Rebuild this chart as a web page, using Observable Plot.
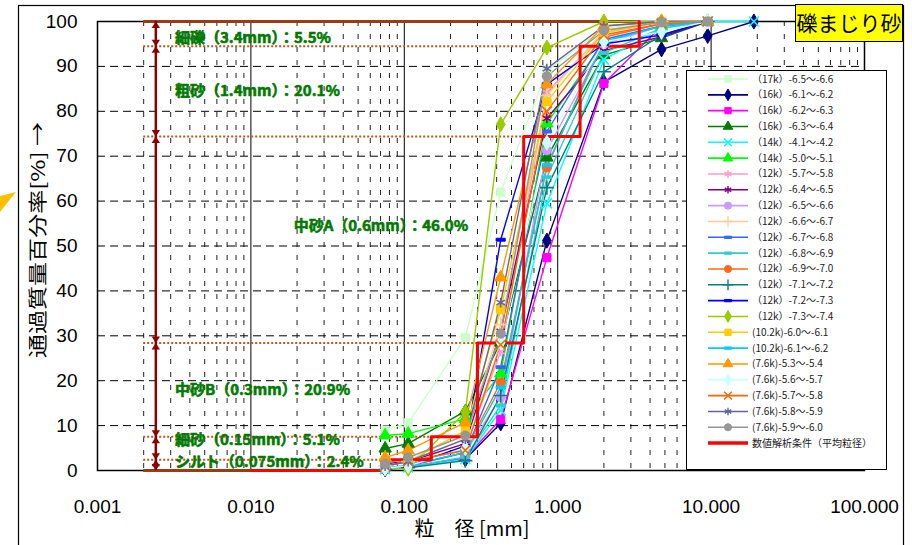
<!DOCTYPE html>
<html>
<head>
<meta charset="utf-8">
<script src="https://cdn.jsdelivr.net/npm/d3@7"></script>
<script src="https://cdn.jsdelivr.net/npm/@observablehq/plot@0.6"></script>
<style>
  html, body { margin: 0; padding: 0; background: #fff; overflow: hidden; }
  #chart svg { display: block; }
</style>
</head>
<body>
<div id="chart"></div>
<script>
// Sieve openings [mm]
const sieves = [0.075, 0.106, 0.25, 0.425, 0.85, 2.0, 4.75, 9.5, 19.0];

// Sample names (borehole depth ranges)
const seriesNames = [
  "（17k）-6.5～-6.6", "（16k）-6.1～-6.2", "（16k）-6.2～-6.3", "（16k）-6.3～-6.4",
  "（14k）-4.1～-4.2", "（14k）-5.0～-5.1", "（12k）-5.7～-5.8", "（12k）-6.4～-6.5",
  "（12k）-6.5～-6.6", "（12k）-6.6～-6.7", "（12k）-6.7～-6.8", "（12k）-6.8～-6.9",
  "（12k）-6.9～-7.0", "（12k）-7.1～-7.2", "（12k）-7.2～-7.3", "（12k）-7.3～-7.4",
  "(10.2k)-6.0～-6.1", "(10.2k)-6.1～-6.2", "(7.6k)-5.3～-5.4", "(7.6k)-5.6～-5.7",
  "(7.6k)-5.7～-5.8", "(7.6k)-5.8～-5.9", "(7.6k)-5.9～-6.0"
];

// Percent passing at each sieve (null = not measured)
const passing = [
  [9.0, 10.6, 29.6, 62.0, 89.0, 98.5, 100, 100, null],
  [0.3, 0.8, 2.5, 10.5, 51.2, 86.5, 93.8, 96.8, 100],
  [0.3, 0.8, 2.8, 11.4, 47.4, 86.2, 99.0, 100, null],
  [4.9, 6.0, 13.2, 28.5, 69.7, 92.5, 96.3, 100, null],
  [0.3, 0.7, 2.5, 13.4, 59.5, 91.5, 98.5, 100, 100],
  [7.8, 8.2, 11.5, 21.6, 77.3, 95.5, 99.0, 100, null],
  [0.5, 1.2, 5.0, 26.5, 84.2, 97.5, 100, 100, null],
  [1.5, 2.0, 6.0, 31.0, 78.4, 93.5, 96.6, 100, null],
  [0.5, 1.0, 4.0, 16.3, 71.3, 95.0, 99.0, 100, null],
  [1.0, 2.0, 7.0, 32.5, 83.5, 98.0, 100, 100, null],
  [0.5, 1.0, 4.0, 23.0, 75.5, 96.0, 99.0, 100, null],
  [0.3, 0.8, 3.0, 14.5, 65.3, 93.0, 98.5, 100, null],
  [1.0, 2.0, 4.5, 19.6, 67.5, 96.5, 99.5, 100, null],
  [0.2, 0.6, 2.2, 16.7, 63.0, 88.8, 97.0, 100, null],
  [0.4, 1.0, 5.5, 51.4, 86.0, 95.0, 97.0, 100, null],
  [0.5, 0.4, 13.0, 77.1, 94.2, 100, 100, 100, null],
  [1.0, 2.0, 8.9, 35.8, 82.2, 97.5, 100, 100, null],
  [0.5, 1.2, 4.0, 18.5, 68.0, 95.5, 99.0, 100, null],
  [2.9, 4.5, 10.7, 43.0, 86.0, 99.0, 100, 100, null],
  [0.5, 1.0, 5.0, 28.5, 73.0, 95.5, 97.7, 100, null],
  [1.0, 2.0, 4.5, 28.0, 80.0, 97.0, 99.5, 100, null],
  [1.0, 2.0, 7.0, 37.4, 89.5, 99.0, 100, 100, null],
  [1.5, 2.9, 7.8, 30.5, 87.8, 98.0, 99.8, 100, null]
];

// Soil fractions used for the numerical model (mean grain size)
const bandNames = ["細礫", "粗砂", "中砂A", "中砂B", "細砂", "シルト"];
const bandSizes = [3.4, 1.4, 0.6, 0.3, 0.15, 0.075];
const bandShares = [5.5, 20.1, 46.0, 20.9, 5.1, 2.4];
const modelName = "数値解析条件（平均粒径）";

const xTicks = [0.001, 0.01, 0.1, 1, 10, 100];
const yTicks = [0, 10, 20, 30, 40, 50, 60, 70, 80, 90, 100];

// ---- styling ----
const seriesColors = [
  "#ccffcc", "#000080", "#ff00ff", "#008000", "#00ffff", "#00ff00", "#ff99cc", "#800080",
  "#cc99ff", "#ffcc99", "#3366ff", "#33cccc", "#ff6a1a", "#008080", "#0000ff", "#99cc00",
  "#ffcc00", "#00ccff", "#ff9900", "#ccffff", "#ff6600", "#666699", "#969696"
];
const dash = { draw(ctx, size) { const r = Math.sqrt(size / Math.PI); ctx.rect(-r, -r * 0.32, 2 * r, r * 0.64); } };
const S = {
  square: [d3.symbolSquare, true], diamond: [d3.symbolDiamond, true], triangle: [d3.symbolTriangle, true],
  circle: [d3.symbolCircle, true], dash: [dash, true],
  times: [d3.symbolTimes, false], asterisk: [d3.symbolAsterisk, false], plus: [d3.symbolPlus, false]
};
const seriesSymbols = [
  "square", "diamond", "square", "triangle", "times", "triangle", "asterisk", "asterisk",
  "circle", "plus", "dash", "dash", "circle", "plus", "dash", "diamond",
  "square", "dash", "triangle", "diamond", "times", "asterisk", "circle"
];
const arrowHead = { draw(ctx) { ctx.moveTo(0, 0); ctx.lineTo(-4.2, 6.5); ctx.lineTo(4.2, 6.5); ctx.closePath(); } };

// ---- derived tables ----
const rows = [];
passing.forEach((vals, s) => vals.forEach((v, j) => { if (v != null) rows.push({ s, size: sieves[j], pass: v }); }));

const tops = [];
let acc = 100;
bandShares.forEach(p => { tops.push(acc); acc = +(acc - p).toFixed(1); });
const bottoms = tops.map((t, i) => +(t - bandShares[i]).toFixed(1));
const bands = bandNames.map((name, i) => ({
  name, size: bandSizes[i], share: bandShares[i], top: tops[i], bottom: bottoms[i],
  mid: (tops[i] + bottoms[i]) / 2,
  label: `${name}（${bandSizes[i]}mm）：${bandShares[i].toFixed(1)}%`
}));

// model step curve, from the finest fraction upward
const step = [{ size: 0.01, pass: 0 }];
for (let i = bands.length - 1; i >= 0; i--) {
  step.push({ size: bands[i].size, pass: bands[i].bottom });
  step.push({ size: bands[i].size, pass: bands[i].top });
}

const guideX = 0.002, arrowX = 0.0024;
const levelLines = bands.map((b, i) => ({ level: b.top, end: b.size, solid: i === 0 }));
levelLines.push({ level: 0, end: bands[bands.length - 1].size, solid: true });

const minor = d3.range(-3, 2).flatMap(e => d3.range(2, 10).map(k => +(k * Math.pow(10, e)).toPrecision(3)));
const major = xTicks.slice(1, -1);

const green = "#007a00";
const labelX = [0.0032, 0.0032, 0.019, 0.0032, 0.0032, 0.0032];
const labelDy = [4, 0, -14, 0, -8, -3];

const marks = [
  Plot.ruleX(minor, { stroke: "#222", strokeWidth: 1, strokeDasharray: "5,8" }),
  Plot.ruleX(major, { stroke: "#000", strokeWidth: 1 }),
  Plot.ruleY(yTicks.slice(1, -1), { stroke: "#000", strokeWidth: 1, strokeDasharray: "8,5" }),
  Plot.frame({ stroke: "#000", strokeWidth: 1.5 }),
  Plot.ruleY(levelLines.filter(d => !d.solid), { y: "level", x1: () => guideX, x2: "end", stroke: "#c0561e", strokeWidth: 2, strokeDasharray: "2,2" }),
  Plot.ruleY(levelLines.filter(d => d.solid), { y: "level", x1: () => guideX, x2: "end", stroke: "#9c3a12", strokeWidth: 3 }),
  Plot.ruleX([arrowX], { y1: 0, y2: 100, stroke: "#8b0000", strokeWidth: 2.5 }),
  Plot.dot(bands, { x: () => arrowX, y: "top", symbol: arrowHead, fill: "#8b0000", stroke: "none" }),
  Plot.dot(bands, { x: () => arrowX, y: "bottom", symbol: arrowHead, rotate: 180, fill: "#8b0000", stroke: "none" }),
  Plot.line(rows, { x: "size", y: "pass", z: "s", stroke: d => seriesColors[d.s], strokeWidth: 1.4 }),
  Plot.line(step, { x: "size", y: "pass", stroke: "#ff0000", strokeWidth: 3, curve: "linear" })
];

seriesSymbols.forEach((name, s) => {
  const [sym, filled] = S[name];
  marks.push(Plot.dot(rows.filter(d => d.s === s), {
    x: "size", y: "pass", symbol: sym, r: 4.6,
    fill: filled ? seriesColors[s] : "none", stroke: seriesColors[s], strokeWidth: filled ? 1 : 1.6
  }));
});

bands.forEach((b, i) => {
  marks.push(Plot.text([b], {
    x: () => labelX[i], y: "mid", text: "label", dy: labelDy[i], textAnchor: "start",
    fill: green, stroke: green, strokeWidth: 0.6, fontWeight: "bold", fontSize: 15, fontFamily: "Noto Sans CJK JP"
  }));
});

const chart = Plot.plot({
  width: 912, height: 545,
  marginLeft: 97, marginRight: 48, marginTop: 21, marginBottom: 75,
  style: { fontFamily: "Liberation Sans, Arial, sans-serif", fontSize: "19px", background: "#fff", color: "#000" },
  color: { type: "identity" },
  x: { type: "log", domain: [0.001, 100], ticks: xTicks, tickFormat: d3.format(".3f"), tickSize: 0, tickPadding: 29, label: null },
  y: { domain: [0, 100], ticks: yTicks, tickSize: 0, tickPadding: 20, label: null },
  marks
});
document.getElementById("chart").append(chart);

// ---- legend and surrounding annotations ----
const svg = d3.select(chart.tagName.toLowerCase() === "svg" ? chart : chart.querySelector("svg"));

const lg = svg.append("g").attr("font-family", "Noto Sans CJK JP").attr("font-size", 10).attr("text-anchor", "start");
lg.append("rect").attr("x", 686.5).attr("y", 70.5).attr("width", 200).attr("height", 399)
  .attr("fill", "#fff").attr("stroke", "#000").attr("stroke-width", 1);
const entries = seriesNames.map((n, s) => ({ name: n, color: seriesColors[s], sym: seriesSymbols[s] }));
entries.push({ name: modelName, color: "#ff0000", sym: null });
entries.forEach((e, i) => {
  const y = 79 + i * 15.83;
  lg.append("line").attr("x1", 708).attr("x2", 748).attr("y1", y).attr("y2", y)
    .attr("stroke", e.color).attr("stroke-width", e.sym ? 1.6 : 3.5);
  if (e.sym) {
    const [sym, filled] = S[e.sym];
    lg.append("path").attr("d", d3.symbol(sym, 40)())
      .attr("transform", `translate(728,${y})`)
      .attr("fill", filled ? e.color : "none").attr("stroke", e.color).attr("stroke-width", filled ? 1 : 1.4);
  }
  lg.append("text").attr("x", 752).attr("y", y).attr("dy", "0.35em").attr("fill", "#222")
    .attr("text-anchor", "start").text(e.name);
});

// axis titles
svg.append("text").attr("transform", "translate(38,240) rotate(-90)").attr("text-anchor", "middle")
  .attr("dy", "0.35em").attr("font-family", "Noto Sans CJK JP").attr("font-size", 19)
  .attr("textLength", 236).attr("lengthAdjust", "spacingAndGlyphs").attr("fill", "#000")
  .text("通過質量百分率[%] →");
svg.append("text").attr("x", 472).attr("y", 529).attr("text-anchor", "middle").attr("dy", "0.35em")
  .attr("font-family", "Noto Sans CJK JP").attr("font-size", 20).attr("fill", "#000")
  .text("粒　径 [mm]");

// outer border, soil-type tag and pointer
svg.append("rect").attr("x", 18.5).attr("y", 5.5).attr("width", 885).attr("height", 600)
  .attr("fill", "none").attr("stroke", "#000").attr("stroke-width", 1.2);
svg.append("rect").attr("x", 795.5).attr("y", 4.5).attr("width", 107).attr("height", 37)
  .attr("fill", "#ffff00").attr("stroke", "#000").attr("stroke-width", 1);
svg.append("text").attr("x", 849).attr("y", 23).attr("dy", "0.36em").attr("text-anchor", "middle")
  .attr("font-family", "Noto Sans CJK JP").attr("font-size", 21).attr("fill", "#000").text("礫まじり砂");
svg.append("polygon").attr("points", "0,196 16,192 0,212").attr("fill", "#ffc000");
</script>
</body>
</html>
